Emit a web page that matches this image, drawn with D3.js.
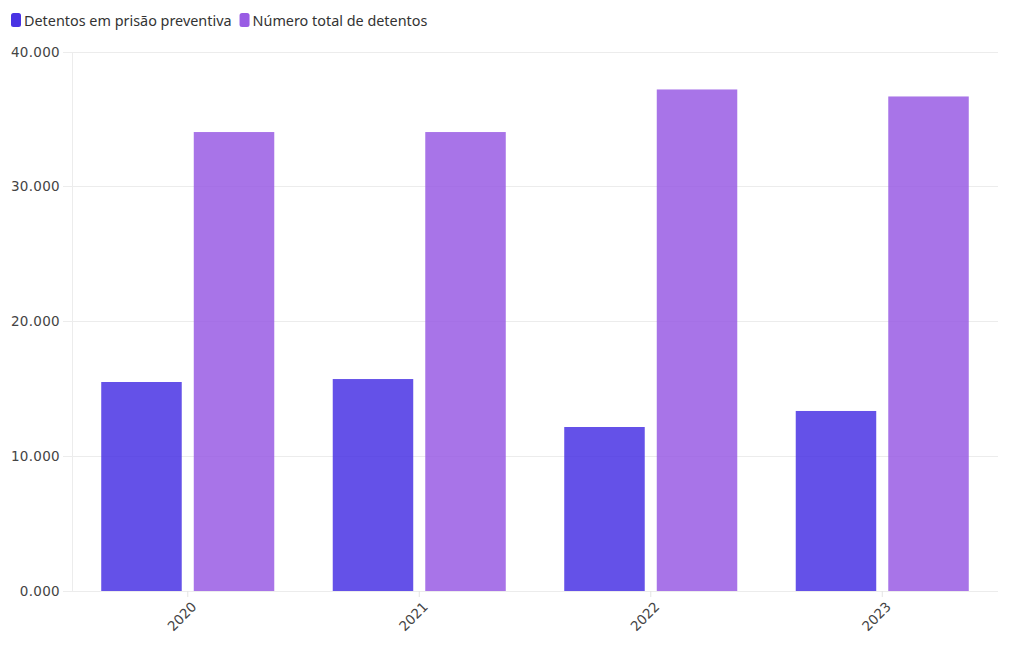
<!DOCTYPE html>
<html><head><meta charset="utf-8">
<script src="https://cdn.jsdelivr.net/npm/d3@7"></script>
<style>body{margin:0;background:#fff;}svg{display:block;font-family:"Noto Sans",sans-serif;}</style>
</head><body><svg id="c" width="1020" height="650"></svg>
<script>
const categories = ["2020","2021","2022","2023"];
const seriesNames = ["Detentos em prisão preventiva","Número total de detentos"];
const preventiva = [15510, 15730, 12170, 13360];
const total = [34060, 34060, 37220, 36700];
const yTicks = [0,10000,20000,30000,40000];
const yTickLabels = ["0.000","10.000","20.000","30.000","40.000"];
const colors = ["#4933e4","#995ce4"];

const svg = d3.select("#c");
const m = {l:72, r:998, t:52, b:591};
const x0 = d3.scaleBand().domain(categories).range([m.l,m.r]).padding(0);
const x1 = d3.scaleBand().domain([0,1]).range([0,x0.bandwidth()]).paddingInner(0.13).paddingOuter(0.316);
const y = d3.scaleLinear().domain([0,40000]).range([m.b,m.t]);

// grid
svg.append("g").selectAll("line").data(yTicks).join("line")
  .attr("x1",m.l-9).attr("x2",m.r).attr("y1",d=>y(d)).attr("y2",d=>y(d))
  .attr("stroke","#ececec").attr("stroke-width",1).attr("shape-rendering","crispEdges");
svg.append("line").attr("x1",m.l).attr("x2",m.l).attr("y1",m.t).attr("y2",m.b)
  .attr("stroke","#ececec").attr("shape-rendering","crispEdges");

// y labels
svg.append("g").selectAll("text").data(yTicks).join("text")
  .attr("x",60).attr("y",d=>y(d)).attr("dy","0.35em").attr("text-anchor","end")
  .attr("font-family","DejaVu Sans").attr("font-size",13.5).attr("fill","#444").attr("letter-spacing","0.3")
  .text((d,i)=>yTickLabels[i]);

// bars
const data = categories.map((c,i)=>({c, vals:[preventiva[i], total[i]]}));
const g = svg.append("g").selectAll("g").data(data).join("g")
  .attr("transform",d=>`translate(${x0(d.c)},0)`);
g.selectAll("rect").data(d=>d.vals.map((v,k)=>({v,k}))).join("rect")
  .attr("x",d=>x1(d.k)).attr("width",x1.bandwidth())
  .attr("y",d=>y(d.v)).attr("height",d=>y(0)-y(d.v))
  .attr("fill",d=>colors[d.k]).attr("fill-opacity",0.85);

// x ticks & labels
const xt = svg.append("g").selectAll("g").data(categories).join("g")
  .attr("transform",d=>`translate(${x0(d)+x0.bandwidth()/2},${m.b})`);
xt.append("line").attr("y1",0).attr("y2",6).attr("stroke","#e4e4e4");
xt.append("text").attr("transform","translate(3,10) rotate(-45)")
  .attr("text-anchor","end").attr("dy","0.7em").attr("font-family","DejaVu Sans")
  .attr("font-size",13.5).attr("fill","#444")
  .text(d=>d);

// legend
const leg = svg.append("g");
let lx = 11;
seriesNames.forEach((s,i)=>{
  leg.append("rect").attr("x",lx).attr("y",13).attr("width",10).attr("height",14).attr("rx",2.5)
    .attr("fill",colors[i]);
  const t = leg.append("text").attr("x",lx+13).attr("y",25.5).attr("font-size",14.4).attr("fill","#333").text(s);
  lx += 13 + t.node().getComputedTextLength() + 8;
});
</script></body></html>
